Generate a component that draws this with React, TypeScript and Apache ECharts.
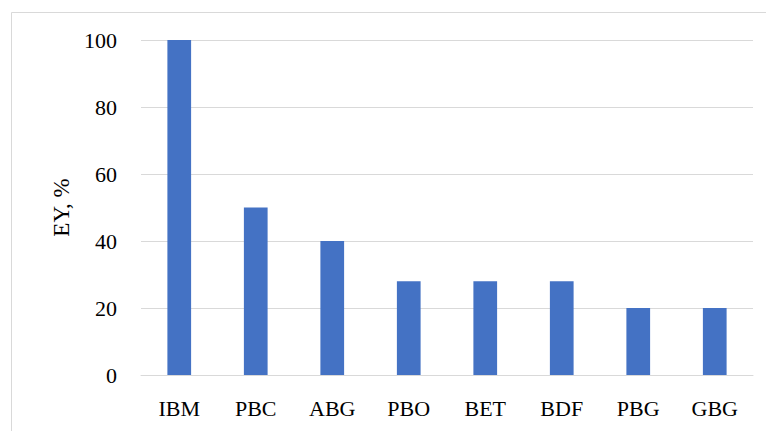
import React, { useEffect, useRef } from "react";
import * as echarts from "echarts";

const categories = ["IBM", "PBC", "ABG", "PBO", "BET", "BDF", "PBG", "GBG"];
const eyValues = [100, 50, 40, 28, 28, 28, 20, 20];
const yTicks = { min: 0, max: 100, interval: 20 };

const FONT = "'Liberation Serif', 'DejaVu Serif', serif";

export default function App() {
  const ref = useRef<HTMLDivElement>(null);

  useEffect(() => {
    document.body.style.margin = "0";
    const chart = echarts.init(ref.current!, null, { renderer: "svg" });
    chart.setOption({
      animation: false,
      backgroundColor: "#ffffff",
      graphic: [
        {
          type: "rect",
          shape: { x: 11.5, y: 12.5, width: 800, height: 500 },
          style: { fill: "none", stroke: "#d9d9d9", lineWidth: 1 },
          silent: true,
        },
      ],
      grid: { left: 141, right: 13, top: 40, bottom: 56 },
      xAxis: {
        type: "category",
        data: categories,
        axisLine: { show: true, lineStyle: { color: "#d9d9d9", width: 1 } },
        axisTick: { show: false },
        axisLabel: {
          color: "#000",
          fontFamily: FONT,
          fontSize: 22,
          margin: 22,
        },
      },
      yAxis: {
        type: "value",
        min: yTicks.min,
        max: yTicks.max,
        interval: yTicks.interval,
        name: "EY, %",
        nameLocation: "middle",
        nameGap: 68,
        nameTextStyle: { color: "#000", fontFamily: FONT, fontSize: 23 },
        axisLine: { show: false },
        axisTick: { show: false },
        splitLine: { lineStyle: { color: "#d9d9d9", width: 1 } },
        axisLabel: {
          color: "#000",
          fontFamily: FONT,
          fontSize: 22,
          margin: 24,
        },
      },
      series: [
        {
          type: "bar",
          data: eyValues,
          barWidth: "31%",
          itemStyle: { color: "#4472C4" },
        },
      ],
    });
    return () => chart.dispose();
  }, []);

  return (
    <div
      ref={ref}
      style={{ position: "absolute", left: 0, top: 0, width: 766, height: 431 }}
    />
  );
}
